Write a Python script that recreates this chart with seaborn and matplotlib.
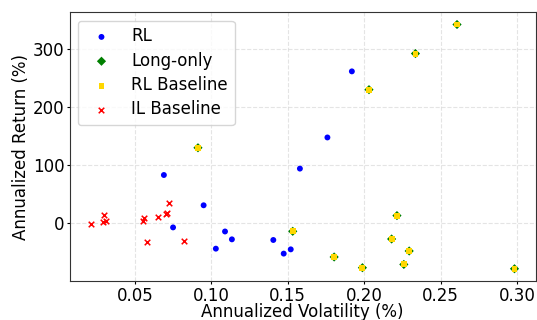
import pandas as pd
import seaborn as sns
import matplotlib.pyplot as plt

# RL agents
rl_vol = [0.069, 0.075, 0.095, 0.109, 0.1135, 0.103, 0.1406, 0.1474, 0.152, 0.158, 0.192, 0.176]
rl_ret = [83, -7, 31, -14, -27.5, -43.5, -28.6, -52, -44.7, 94, 261, 147.5]

# long-only and RL baseline share the same points
base_vol = [0.0913, 0.1533, 0.2215, 0.218, 0.2295, 0.1804, 0.226, 0.1989, 0.2984, 0.2336, 0.2032, 0.2608]
base_ret = [129.8, -13.7, 13.3, -26.9, -47.5, -57.8, -70.6, -76.2, -78, 291.6, 229.6, 341.5]

# IL baseline
il_vol = [0.0213, 0.0298, 0.0289, 0.0309, 0.0561, 0.0555, 0.0578, 0.0652, 0.0705, 0.0710, 0.0722, 0.0822]
il_ret = [-1, 14.4, 2.4, 4.1, 9.3, 4.6, -32, 11, 15.5, 17.5, 35, -30.3]

rl = pd.DataFrame({'vol': rl_vol, 'ret': rl_ret})
base = pd.DataFrame({'vol': base_vol, 'ret': base_ret})
il = pd.DataFrame({'vol': il_vol, 'ret': il_ret})

fig, ax = plt.subplots(figsize=(5.37, 3.2), dpi=100)
sns.scatterplot(data=rl, x='vol', y='ret', color='blue', marker='o', s=18,
                edgecolor='none', label='RL', ax=ax, zorder=3)
sns.scatterplot(data=base, x='vol', y='ret', color='green', marker='D', s=22,
                edgecolor='none', label='Long-only', ax=ax, zorder=3)
sns.scatterplot(data=base, x='vol', y='ret', color='gold', marker='s', s=18,
                edgecolor='none', label='RL Baseline', ax=ax, zorder=4)
sns.scatterplot(data=il, x='vol', y='ret', color='red', marker='x', s=16,
                linewidth=1.1, label='IL Baseline', ax=ax, zorder=3)

ax.set_xlabel('Annualized Volatility (%)', fontsize=12, labelpad=-1)
ax.set_ylabel('Annualized Return (%)', fontsize=12, labelpad=2)
ax.tick_params(labelsize=12, length=2, pad=2)
ax.set_xticks([0.05, 0.10, 0.15, 0.20, 0.25, 0.30])
ax.set_yticks([0, 100, 200, 300])
ax.grid(True, linestyle='--', color='lightgray', alpha=0.6)
for sp in ax.spines.values():
    sp.set_color('#333333')
ax.legend(loc='upper left', fontsize=12, labelspacing=0.38)

plt.subplots_adjust(left=0.13, right=0.9975, top=0.9616, bottom=0.122)
plt.savefig('out.png', dpi=100)
